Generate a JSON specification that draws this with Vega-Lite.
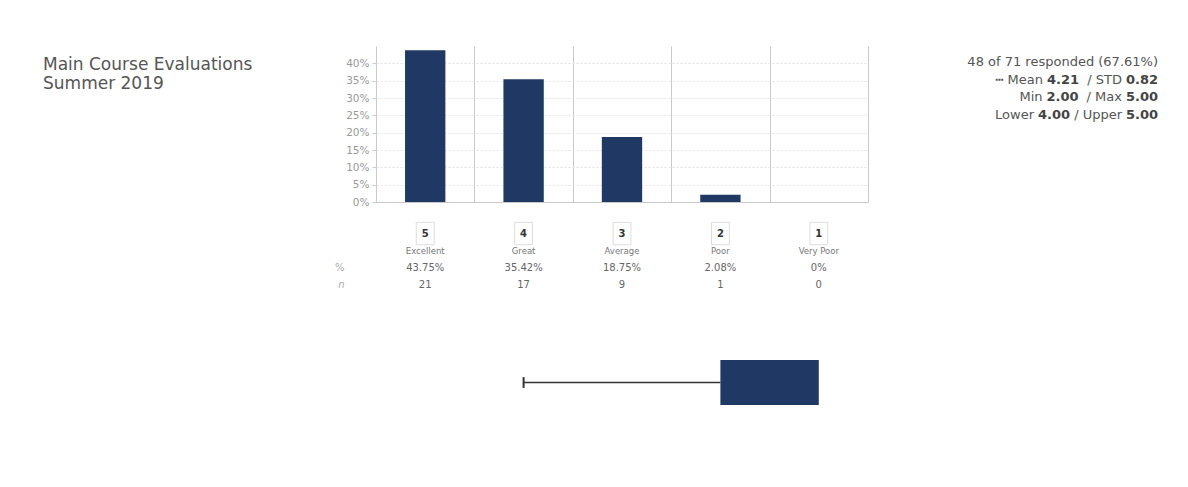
{
  "$schema": "https://vega.github.io/schema/vega-lite/v6.json",
  "background": "#ffffff",
  "padding": {"left": 43, "top": 46, "right": 28, "bottom": 0},
  "config": {"view": {"stroke": null}, "font": "DejaVu Sans"},
  "datasets": {
    "ratings": [
      {"rating": 5, "label": "Excellent", "pct": 0.4375, "pctText": "43.75%", "n": 21},
      {"rating": 4, "label": "Great", "pct": 0.3542, "pctText": "35.42%", "n": 17},
      {"rating": 3, "label": "Average", "pct": 0.1875, "pctText": "18.75%", "n": 9},
      {"rating": 2, "label": "Poor", "pct": 0.0208, "pctText": "2.08%", "n": 1},
      {"rating": 1, "label": "Very Poor", "pct": 0, "pctText": "0%", "n": 0}
    ],
    "stats": [
      {"responded": 48, "total": 71, "mean": 4.21, "std": 0.82, "min": 2, "max": 5, "lower": 4, "upper": 5}
    ],
    "title": [
      {"line": 1, "text": "Main Course Evaluations"},
      {"line": 2, "text": "Summer 2019"}
    ]
  },
  "hconcat": [
    {
      "width": 271,
      "height": 156,
      "data": {"name": "title"},
      "mark": {"type": "text", "align": "left", "baseline": "middle", "fontSize": 17, "color": "#555555"},
      "encoding": {
        "x": {"datum": 0, "type": "quantitative", "scale": {"domain": [0, 1]}, "axis": null},
        "y": {"field": "line", "type": "quantitative", "scale": {"domain": [0, 8.2], "reverse": true, "nice": false, "zero": false}, "axis": null},
        "text": {"field": "text"}
      }
    },
    {
      "vconcat": [
        {
          "vconcat": [
            {
              "width": 492,
              "height": 156,
              "data": {"name": "ratings"},
              "mark": {"type": "bar", "color": "#1f3864", "width": {"band": 0.41}},
              "encoding": {
                "x": {"field": "rating", "type": "ordinal", "sort": "descending",
                  "scale": {"paddingInner": 0, "paddingOuter": 0},
                  "axis": {"labels": false, "ticks": false, "title": null, "grid": true, "gridColor": "#cacaca", "tickBand": "extent", "domainColor": "#c8c8c8"}},
                "y": {"field": "pct", "type": "quantitative",
                  "scale": {"domain": [0, 0.45], "nice": false},
                  "axis": {"format": ".0%", "values": [0, 0.05, 0.1, 0.15, 0.2, 0.25, 0.3, 0.35, 0.4], "title": null, "gridDash": [2, 2], "gridColor": "#e2e2e2", "domain": false, "tickSize": 4, "tickColor": "#cccccc", "labelColor": "#999999", "labelFontSize": 10.5, "labelPadding": 3}}
              }
            },
            {
              "width": 492,
              "height": 68,
              "data": {"name": "ratings"},
              "encoding": {
                "x": {"field": "rating", "type": "ordinal", "sort": "descending", "scale": {"paddingInner": 0, "paddingOuter": 0}, "axis": null}
              },
              "layer": [
                {
                  "mark": {"type": "point", "shape": "M-0.8,-1L0.8,-1L0.8,1L-0.8,1Z", "size": 500, "filled": false, "stroke": "#dddddd", "strokeWidth": 1, "opacity": 1},
                  "encoding": {
                    "y": {"datum": "num", "type": "nominal",
                      "scale": {"type": "point", "domain": ["num", "name", "pct", "n"], "padding": 0.5},
                      "axis": {"title": null, "domain": false, "ticks": false, "labelPadding": 32, "labelColor": "#aaaaaa", "labelFontSize": 10,
                        "labelFontStyle": {"condition": {"test": "datum.value == 'n'", "value": "italic"}, "value": "normal"},
                        "labelExpr": "datum.value == 'pct' ? '%' : (datum.value == 'n' ? 'n' : '')"}}
                  }
                },
                {
                  "mark": {"type": "text", "fontSize": 10, "fontWeight": "bold", "color": "#333333", "baseline": "middle"},
                  "encoding": {"y": {"datum": "num", "type": "nominal"}, "text": {"field": "rating"}}
                },
                {
                  "mark": {"type": "text", "fontSize": 8.5, "color": "#777777", "baseline": "middle"},
                  "encoding": {"y": {"datum": "name", "type": "nominal"}, "text": {"field": "label"}}
                },
                {
                  "mark": {"type": "text", "fontSize": 10, "color": "#666666", "baseline": "middle"},
                  "encoding": {"y": {"datum": "pct", "type": "nominal"}, "text": {"field": "pctText"}}
                },
                {
                  "mark": {"type": "text", "fontSize": 10, "color": "#666666", "baseline": "middle"},
                  "encoding": {"y": {"datum": "n", "type": "nominal"}, "text": {"field": "n"}}
                }
              ]
            }
          ],
          "spacing": 12
        },
        {
          "width": 492,
          "height": 45,
          "data": {"name": "stats"},
          "layer": [
            {
              "mark": {"type": "rule", "color": "#333333", "strokeWidth": 1.5},
              "encoding": {
                "x": {"field": "min", "type": "quantitative", "scale": {"domain": [0.5, 5.5], "nice": false, "zero": false}, "axis": null},
                "x2": {"field": "lower"},
                "y": {"datum": 0.5, "type": "quantitative", "scale": {"domain": [0, 1], "nice": false}, "axis": null}
              }
            },
            {
              "mark": {"type": "rule", "color": "#333333", "strokeWidth": 2},
              "encoding": {
                "x": {"field": "min", "type": "quantitative"},
                "y": {"datum": 0.38, "type": "quantitative"},
                "y2": {"datum": 0.62}
              }
            },
            {
              "mark": {"type": "rect", "color": "#1f3864"},
              "encoding": {
                "x": {"field": "lower", "type": "quantitative"},
                "x2": {"field": "upper"},
                "y": {"datum": 0, "type": "quantitative"},
                "y2": {"datum": 1}
              }
            }
          ]
        }
      ],
      "spacing": 67
    },
    {
      "width": 270,
      "height": 156,
      "data": {"name": "stats"},
      "encoding": {
        "x": {"datum": 1, "type": "quantitative", "scale": {"domain": [0, 1]}, "axis": null}
      },
      "layer": [
        {"mark": {"type": "text", "align": "right", "baseline": "middle", "fontSize": 13, "color": "#555555", "text": "48 of 71 responded (67.61%)"},
         "encoding": {"y": {"datum": 1, "type": "quantitative", "scale": {"domain": [0.1, 8.9], "reverse": true, "nice": false, "zero": false}, "axis": null}}},
        {"mark": {"type": "text", "align": "right", "baseline": "middle", "fontSize": 13, "fontWeight": "bold", "color": "#444444"},
         "encoding": {"y": {"datum": 2, "type": "quantitative"}, "text": {"field": "std", "format": ".2f"}}},
        {"mark": {"type": "text", "align": "right", "baseline": "middle", "fontSize": 13, "color": "#555555", "dx": -36, "text": "/ STD"},
         "encoding": {"y": {"datum": 2, "type": "quantitative"}}},
        {"mark": {"type": "text", "align": "right", "baseline": "middle", "fontSize": 13, "fontWeight": "bold", "color": "#444444", "dx": -79},
         "encoding": {"y": {"datum": 2, "type": "quantitative"}, "text": {"field": "mean", "format": ".2f"}}},
        {"mark": {"type": "text", "align": "right", "baseline": "middle", "fontSize": 13, "color": "#555555", "dx": -115, "text": "┅ Mean"},
         "encoding": {"y": {"datum": 2, "type": "quantitative"}}},
        {"mark": {"type": "text", "align": "right", "baseline": "middle", "fontSize": 13, "fontWeight": "bold", "color": "#444444"},
         "encoding": {"y": {"datum": 3, "type": "quantitative"}, "text": {"field": "max", "format": ".2f"}}},
        {"mark": {"type": "text", "align": "right", "baseline": "middle", "fontSize": 13, "color": "#555555", "dx": -36, "text": "/ Max"},
         "encoding": {"y": {"datum": 3, "type": "quantitative"}}},
        {"mark": {"type": "text", "align": "right", "baseline": "middle", "fontSize": 13, "fontWeight": "bold", "color": "#444444", "dx": -79.5},
         "encoding": {"y": {"datum": 3, "type": "quantitative"}, "text": {"field": "min", "format": ".2f"}}},
        {"mark": {"type": "text", "align": "right", "baseline": "middle", "fontSize": 13, "color": "#555555", "dx": -115.5, "text": "Min"},
         "encoding": {"y": {"datum": 3, "type": "quantitative"}}},
        {"mark": {"type": "text", "align": "right", "baseline": "middle", "fontSize": 13, "fontWeight": "bold", "color": "#444444"},
         "encoding": {"y": {"datum": 4, "type": "quantitative"}, "text": {"field": "upper", "format": ".2f"}}},
        {"mark": {"type": "text", "align": "right", "baseline": "middle", "fontSize": 13, "color": "#555555", "dx": -36, "text": "/ Upper"},
         "encoding": {"y": {"datum": 4, "type": "quantitative"}}},
        {"mark": {"type": "text", "align": "right", "baseline": "middle", "fontSize": 13, "fontWeight": "bold", "color": "#444444", "dx": -88},
         "encoding": {"y": {"datum": 4, "type": "quantitative"}, "text": {"field": "lower", "format": ".2f"}}},
        {"mark": {"type": "text", "align": "right", "baseline": "middle", "fontSize": 13, "color": "#555555", "dx": -124, "text": "Lower"},
         "encoding": {"y": {"datum": 4, "type": "quantitative"}}}
      ]
    }
  ],
  "spacing": 20
}
